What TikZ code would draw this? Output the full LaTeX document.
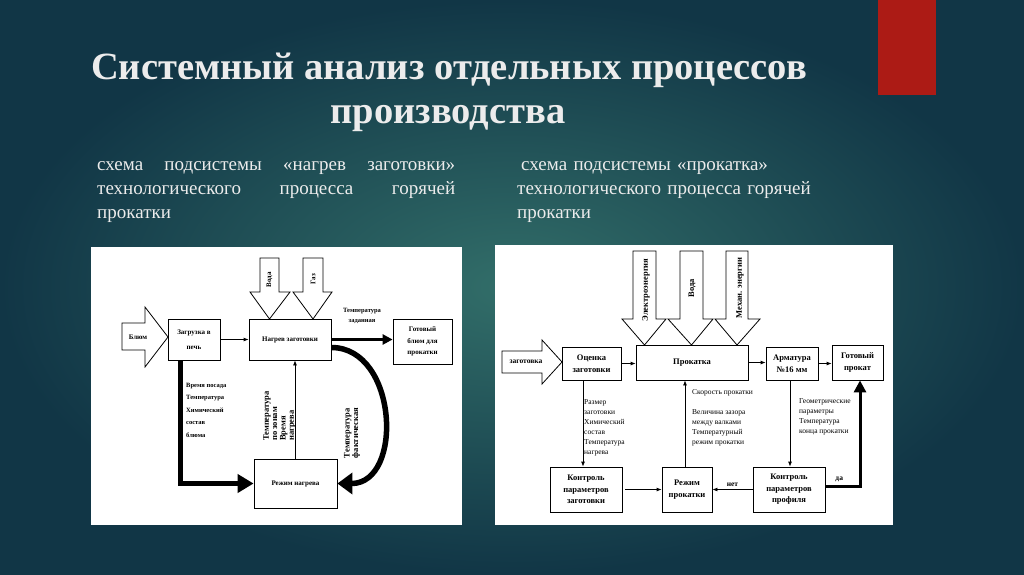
\documentclass[tikz,border=0pt]{standalone}
\usepackage{fontspec}
\setmainfont{Liberation Serif}
\usetikzlibrary{arrows.meta,positioning}

\definecolor{fonmid}{RGB}{50,110,105}
\definecolor{fonedge}{RGB}{17,54,70}
\definecolor{krasnyi}{RGB}{172,27,21}
\definecolor{svetlyi}{RGB}{236,236,236}

\tikzset{
  blokL/.style={draw, line width=0.8pt, fill=white, align=center, inner sep=1pt, font=\fontsize{7}{11.5}\selectfont\bfseries},
  blokR/.style={draw, line width=0.8pt, fill=white, align=center, inner sep=1pt, font=\fontsize{8.5}{11.5}\selectfont\bfseries},
  podpisL/.style={align=left, inner sep=0pt, font=\fontsize{6.5}{12.5}\selectfont\bfseries},
  podpisR/.style={align=left, inner sep=0pt, font=\fontsize{7.5}{10}\selectfont},
  vvod/.style={draw, line width=0.8pt, fill=white},
  strelka/.style={-{Latex[length=5pt,width=4pt]}, line width=0.8pt},
  zagolovok/.style={text=svetlyi, font=\fontsize{38.5}{44}\selectfont\bfseries},
  podzag/.style={text=svetlyi, inner sep=0pt, align=left, font=\fontsize{19}{24}\selectfont},
}

\begin{document}
\begin{tikzpicture}[x=1pt, y=-1pt]
  \useasboundingbox (0,0) rectangle (1024,574);
  % fon slaida
  \shade[inner color=fonmid, outer color=fonedge] (0,0) rectangle (1024,574);
  \fill[krasnyi] (878,0) rectangle (936,95);

  % zagolovok
  \node[zagolovok, anchor=base] (titul1) at (449,79) {Системный анализ отдельных процессов};
  \node[zagolovok, anchor=base] (titul2) at (448,123) {производства};

  % podzagolovki
  \node[podzag, anchor=north west, text width=358pt] (podzag1) at (97,161)
    {\makebox[358pt][l]{схема\hfill подсистемы\hfill «нагрев\hfill заготовки»}\\
     \makebox[358pt][l]{технологического\hfill процесса\hfill горячей}\\
     прокатки};
  \node[podzag, anchor=north west, text width=310pt] (podzag2) at (517,161)
    {\hspace{4pt}схема подсистемы «прокатка»\\
     технологического процесса горячей\\
     прокатки};

  % paneli
  \fill[white] (91,247) rectangle (462,525);
  \fill[white] (495,245) rectangle (893,525);

  % ---- levaya shema: nagrev zagotovki ----
  \draw[vvod] (122,323) -- (145,323) -- (145,307) -- (168,337) -- (145,367) -- (145,350) -- (122,350) -- cycle;
  \node[podpisL, font=\fontsize{7}{8}\selectfont\bfseries] (bluym) at (138,337) {Блюм};
  \draw[vvod] (260,258) -- (279,258) -- (279,292) -- (290,292) -- (269.5,319) -- (250,292) -- (260,292) -- cycle;
  \node[podpisL, rotate=90, font=\fontsize{7}{8}\selectfont\bfseries] (vodaL) at (269.5,280) {Вода};
  \draw[vvod] (303,258) -- (323,258) -- (323,292) -- (332,292) -- (313,319) -- (293,292) -- (303,292) -- cycle;
  \node[podpisL, rotate=90, font=\fontsize{7}{8}\selectfont\bfseries] (gaz) at (313,279) {Газ};

  % bloki
  \node[blokL, minimum width=52, minimum height=41] (zagruzka) at (194,339.5) {Загрузка в\\[4pt]печь};
  \node[blokL, minimum width=82, minimum height=41] (nagrev) at (290,339.5) {Нагрев заготовки};
  \node[blokL, minimum width=59, minimum height=45] (gotovyi) at (422.5,341.5) {Готовый\\блюм для\\прокатки};
  \node[blokL, minimum width=83, minimum height=49] (rezhim) at (295.5,483.5) {Режим нагрева};

  % svyazi
  \draw[strelka] (zagruzka) -- (nagrev);
  \draw[-{Triangle[length=10pt,width=10pt]}, line width=2.5pt] (nagrev.east) -- (nagrev.east -| gotovyi.west);
  \draw[strelka] ([xshift=-0.5pt]rezhim.north) -- ([xshift=-0.5pt]rezhim.north |- nagrev.south);
  \draw[-{Triangle[length=16pt,width=18pt]}, line width=5pt] ([xshift=-14pt]zagruzka.south) |- (rezhim.west);
  \draw[-{Triangle[length=15pt,width=21pt]}, line width=5.5pt] ([yshift=-8pt]nagrev.east) to[out=0, in=0, looseness=1.25] (rezhim.east);

  % podpisi
  \node[podpisL, align=center, font=\fontsize{6.5}{10}\selectfont\bfseries] (tzad) at (362,315.5) {Температура\\заданная};
  \node[podpisL, anchor=north west] (posad) at (186,383) {Время посада\\Температура\\Химический\\состав\\блюма};
  \node[podpisL, rotate=90, font=\fontsize{8.5}{8.3}\selectfont\bfseries] (tzon) at (279.5,416) {Температура\\по зонам\\Время\\нагрева};
  \node[podpisL, rotate=90, font=\fontsize{8.5}{8.3}\selectfont\bfseries] (tfakt) at (352,433) {Температура\\фактическая};

  % ---- pravaya shema: prokatka ----
  \draw[vvod] (502,351) -- (542,351) -- (542,340) -- (562,362) -- (542,384) -- (542,373) -- (502,373) -- cycle;
  \node[podpisR, font=\fontsize{7.5}{8}\selectfont\bfseries] (zagot) at (526,362) {заготовка};
  \draw[vvod] (633,251) -- (656,251) -- (656,319) -- (666,319) -- (644.5,345) -- (622,319) -- (633,319) -- cycle;
  \node[podpisR, rotate=90, font=\fontsize{8.5}{9}\selectfont\bfseries] (elektro) at (646,290) {Электроэнергия};
  \draw[vvod] (680,251) -- (703,251) -- (703,319) -- (713,319) -- (691.5,345) -- (668,319) -- (680,319) -- cycle;
  \node[podpisR, rotate=90, font=\fontsize{8.5}{9}\selectfont\bfseries] (vodaR) at (692,288) {Вода};
  \draw[vvod] (726,251) -- (748,251) -- (748,319) -- (760,319) -- (737,345) -- (715,319) -- (726,319) -- cycle;
  \node[podpisR, rotate=90, font=\fontsize{8.5}{9}\selectfont\bfseries] (mehan) at (740,288) {Механ. энергии};

  % bloki
  \node[blokR, minimum width=59, minimum height=33] (ocenka) at (591.5,363.5) {Оценка\\заготовки};
  \node[blokR, minimum width=112, minimum height=35] (prokatka) at (692,362.5) {Прокатка};
  \node[blokR, minimum width=52, minimum height=33] (armatura) at (792,363.5) {Арматура\\№16 мм};
  \node[blokR, minimum width=51, minimum height=35] (gotprokat) at (857.5,362.5) {Готовый\\прокат};
  \node[blokR, minimum width=72, minimum height=45] (kontrzag) at (586,489.5) {Контроль\\параметров\\заготовки};
  \node[blokR, minimum width=50, minimum height=45] (rezhprok) at (687,489.5) {Режим\\прокатки};
  \node[blokR, minimum width=72, minimum height=45] (kontrprof) at (789,489.5) {Контроль\\параметров\\профиля};

  % svyazi
  \draw[strelka] (ocenka.east) -- (ocenka.east -| prokatka.west);
  \draw[strelka] (prokatka.east) -- (prokatka.east -| armatura.west);
  \draw[strelka] (armatura.east) -- (armatura.east -| gotprokat.west);
  \draw[strelka] ([xshift=-8.5pt]ocenka.south) -- ([xshift=-8.5pt]ocenka.south |- kontrzag.north);
  \draw[strelka, shorten <=3pt] (kontrzag) -- (rezhprok);
  \draw[strelka] ([xshift=-2pt]rezhprok.north) -- ([xshift=-2pt]rezhprok.north |- prokatka.south);
  \draw[strelka] (kontrprof) -- node[above, inner sep=3pt, font=\fontsize{7.5}{8}\selectfont\bfseries] {нет} (rezhprok);
  \draw[strelka] ([xshift=-2pt]armatura.south) -- ([xshift=-2pt]armatura.south |- kontrprof.north);
  \draw[-{Triangle[length=12pt,width=12pt]}, line width=3pt] ([yshift=3.5pt]kontrprof.east) -| node[pos=0.2, above, inner sep=3pt, font=\fontsize{7.5}{8}\selectfont\bfseries] {да} ([xshift=2.5pt]gotprokat.south);

  % podpisi
  \node[podpisR, anchor=north west] (razmer) at (584,399) {Размер\\заготовки\\Химический\\состав\\Температура\\нагрева};
  \node[podpisR, anchor=west] (skorost) at (692,393) {Скорость прокатки};
  \node[podpisR, anchor=north west] (zazor) at (692,409) {Величина зазора\\между валками\\Температурный\\режим прокатки};
  \node[podpisR, anchor=north west] (geom) at (799,398) {Геометрические\\параметры\\Температура\\конца прокатки};
\end{tikzpicture}
\end{document}
